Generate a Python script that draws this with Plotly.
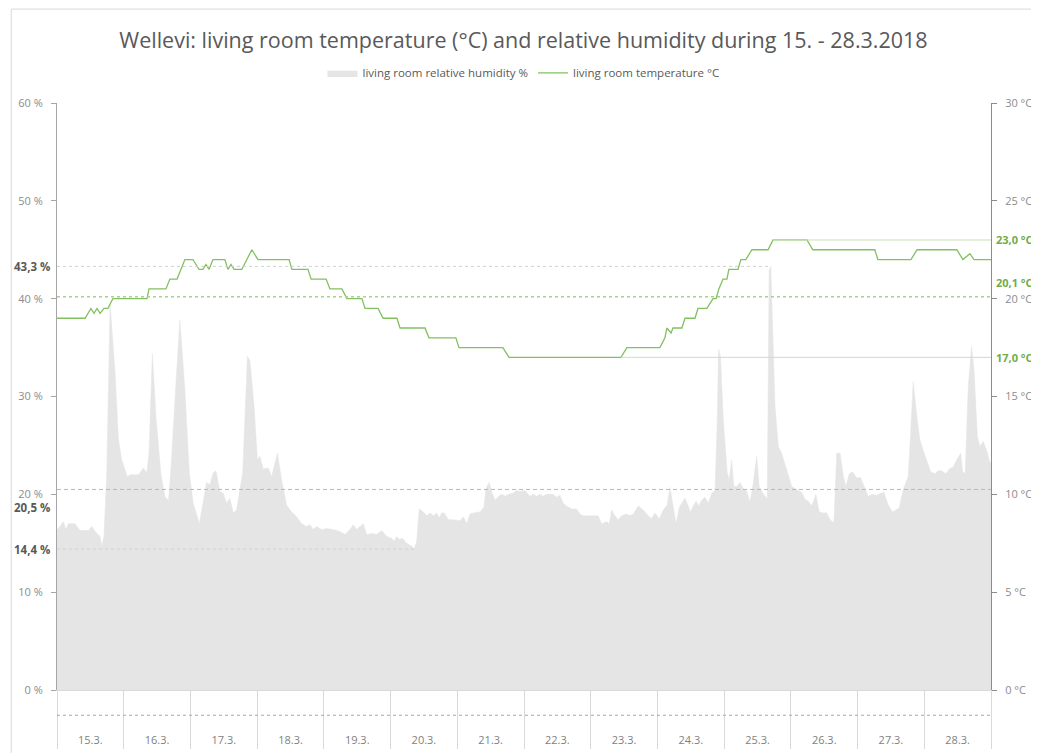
import plotly.graph_objects as go
import pandas as pd

# Wellevi living room, 15.-28.3.2018
start = pd.Timestamp("2018-03-15 00:00")
end = pd.Timestamp("2018-03-29 00:00")

# relative humidity %, hours since 15.3. 00:00
hum_hours = [0, 1.1, 2.3, 3.2, 4.1, 6.5, 8.3, 11.3, 12.5, 14.3, 15.5, 16.1, 16.9, 17.9, 19.1, 20.9, 22.1, 23.3,
             25.3, 26.3, 29.3, 31.1, 32.3, 33.1, 34.3, 35.6, 37.4, 38.9, 40.1, 40.9, 42.5, 44.2, 46.0, 47.6,
             49.0, 51.2, 52.4, 53.8, 55.0, 56.2, 57.2, 58.6, 59.8, 61.0, 62.2, 63.4, 64.6, 65.6, 66.8, 68.5, 69.4, 70.9,
             72.1, 73.0, 74.2, 76.0, 77.2, 79.3, 80.8, 82.6, 84.4, 86.2, 88.0, 89.8, 91.0, 92.2, 93.4, 95.2,
             97.0, 99.4, 101.8, 103.6, 105.4, 106.6, 107.8, 109.0, 110.2, 111.4, 113.2, 115.0, 116.8, 118.6, 120.4, 121.3, 122.2, 123.1,
             124.3, 125.8, 127.6, 128.5, 129.4, 130.3, 131.8, 133.0, 134.2, 135.4, 136.6, 137.5, 138.4, 139.3, 140.8, 142.6, 145.0, 146.2, 147.4, 148.6, 149.8, 152.2, 153.6,
             154.3, 155.5, 156.4, 157.6, 158.8, 160.0, 161.2, 162.3, 164.1, 165.3, 166.5, 168.3, 170.1, 171.3, 172.5, 173.7, 174.9, 176.1, 178.5, 179.7, 180.9,
             182.1, 183.3, 185.1, 186.9, 188.1, 189.3, 191.7, 194.7, 195.9, 197.7, 198.7, 199.5, 200.7, 201.9, 203.1, 204.9, 206.1, 207.3, 209.1, 210.9,
             212.7, 213.9, 215.1, 216.7, 218.1, 219.5, 220.5, 221.5, 222.7, 223.9, 225.3, 225.9, 227.1, 227.9, 228.9, 229.9, 230.8, 231.9, 233.1, 234.3, 235.5, 236.7, 237.5,
             238.0, 238.7, 239.7, 241.1, 241.8, 242.7, 243.5, 244.5, 245.7, 246.9, 248.1, 249.3, 250.5, 251.7, 252.6, 253.8, 254.7, 255.5, 256.2, 256.8, 258.3, 259.5, 260.7,
             262.5, 264.3, 266.1, 267.9, 269.1, 270.3, 271.5, 273.0, 274.2, 275.7, 276.9, 278.1, 279.5, 280.5, 281.7, 282.9, 283.8, 285.0, 286.2, 287.6, 289.1, 290.3,
             291.8, 293.4, 294.8, 296.3, 297.5, 299.0, 300.6, 301.8, 303.0, 304.4, 306.2, 307.1, 308.0, 309.2, 310.4, 311.6, 312.8, 314.3, 315.8, 317.0, 318.2, 319.8,
             321.0, 322.4, 323.6, 325.1, 325.8, 326.7, 327.8, 329.0, 329.9, 331.1, 332.0, 333.2, 334.4, 335.6, 336.0]
hum_values = [16.4, 16.7, 17.2, 16.4, 17.0, 17.0, 16.3, 16.3, 16.7, 16.0, 15.7, 14.7, 15.7, 22.2, 39.5, 32.4, 25.6, 23.5,
              21.8, 22.0, 22.0, 22.7, 22.2, 24.2, 34.4, 27.9, 22.0, 19.7, 19.4, 22.2, 30.0, 37.8, 30.7, 22.2,
              19.1, 17.0, 18.9, 21.2, 21.0, 22.2, 22.4, 20.3, 20.1, 19.1, 19.6, 18.1, 18.4, 20.1, 22.2, 34.1, 33.7, 29.0,
              23.5, 23.9, 22.6, 22.7, 21.8, 24.2, 21.5, 18.9, 18.2, 17.7, 17.0, 16.7, 16.9, 16.4, 16.7, 16.4,
              16.5, 16.4, 16.2, 15.9, 16.4, 16.9, 16.4, 16.7, 17.0, 15.9, 16.0, 15.9, 16.3, 15.7, 15.5, 15.2, 15.7, 15.4,
              15.5, 15.0, 14.7, 14.4, 15.2, 18.5, 18.2, 17.8, 18.1, 17.8, 18.1, 17.6, 18.1, 18.1, 17.4, 17.4, 17.3, 17.7, 17.0, 18.0, 18.1, 18.2, 18.7,
              20.6, 21.2, 20.2, 19.4, 19.8, 20.0, 19.8, 20.0, 20.1, 20.4, 20.3, 20.4, 19.8, 20.0, 19.8, 20.0, 19.8, 20.0, 20.0, 19.7, 19.9,
              19.1, 18.8, 18.5, 18.5, 18.0, 17.8, 17.8, 17.8, 17.0, 17.2, 17.0, 18.4, 17.8, 17.4, 17.8, 18.0, 17.8, 18.0, 18.8, 18.4,
              17.8, 17.5, 18.1, 17.5, 18.4, 18.9, 20.7, 19.1, 17.0, 18.7, 19.3, 19.6, 18.8, 18.2, 18.8, 19.3, 18.8, 19.4, 19.7, 19.1, 20.1, 20.4, 27.3,
              34.8, 34.1, 27.6, 22.2, 21.5, 23.5, 20.8, 20.8, 21.2, 20.6, 20.3, 19.2, 21.2, 23.9, 20.8, 20.2, 19.8, 19.5, 42.9, 43.3, 29.0, 24.9, 24.2,
              22.5, 20.8, 20.5, 20.2, 19.5, 19.3, 18.8, 20.0, 18.2, 18.1, 18.1, 17.4, 17.1, 24.2, 24.2, 21.8, 20.8, 22.1, 22.3, 21.7, 21.7, 20.8,
              19.8, 20.0, 19.9, 20.1, 20.2, 18.9, 18.2, 18.4, 18.6, 20.5, 21.8, 26.3, 31.5, 28.3, 25.6, 24.5, 23.5, 22.3, 22.1, 22.4, 22.4, 22.1,
              22.6, 22.8, 23.5, 24.2, 22.3, 22.1, 31.0, 35.1, 32.7, 25.9, 24.9, 25.4, 24.5, 23.3, 23.2]

# temperature °C
temp_hours = [0, 10.1, 12.2, 13.3, 14.4, 15.5, 16.9, 18.3, 20.1, 32.4, 33.1, 39.2, 40.6, 43.2, 46.0, 48.9,
              51.1, 52.5, 53.6, 54.7, 56.1, 60.4, 61.5, 62.6, 63.7, 66.5, 68.3, 70.1, 72.3, 83.5, 84.5, 90.3,
              91.4, 96.8, 98.2, 102.5, 104.3, 109.7, 110.8, 115.5, 117.3, 122.3, 123.4, 132.4, 133.8, 143.5,
              144.6, 160.4, 162.6, 202.9, 205.0, 216.9, 218.7, 219.4, 220.9, 221.6, 224.8, 225.9, 229.5, 230.6,
              233.8, 236.0, 237.1, 238.1, 239.6, 241.0, 241.7, 245.0, 246.0, 247.8, 250.0, 255.8, 257.6, 269.8,
              271.9, 294.2, 295.3, 307.2, 309.4, 323.7, 325.9, 328.4, 329.9, 336.0]
temp_values = [19.0, 19.0, 19.5, 19.25, 19.5, 19.25, 19.5, 19.5, 20.0, 20.0, 20.5, 20.5, 21.0, 21.0, 22.0, 22.0,
               21.5, 21.5, 21.75, 21.5, 22.0, 22.0, 21.5, 21.75, 21.5, 21.5, 22.0, 22.5, 22.0, 22.0, 21.5, 21.5,
               21.0, 21.0, 20.5, 20.5, 20.0, 20.0, 19.5, 19.5, 19.0, 19.0, 18.5, 18.5, 18.0, 18.0,
               17.5, 17.5, 17.0, 17.0, 17.5, 17.5, 18.0, 18.5, 18.25, 18.5, 18.5, 19.0, 19.0, 19.5,
               19.5, 20.0, 20.0, 20.5, 21.0, 21.0, 21.5, 21.5, 22.0, 22.0, 22.5, 22.5, 23.0, 23.0,
               22.5, 22.5, 22.0, 22.0, 22.5, 22.5, 22.0, 22.3, 22.0, 22.0]

# summary values shown on the chart
hum_max, hum_avg, hum_min = 43.3, 20.5, 14.4
temp_max, temp_avg, temp_min = 23.0, 20.1, 17.0
hum_max_hour, hum_min_hour = 256.8, 128.5
temp_max_hour, temp_min_hour = 257.6, 202.9

assert len(hum_hours) == len(hum_values)
assert len(temp_hours) == len(temp_values)

hum_x = start + pd.to_timedelta(hum_hours, unit="h")
temp_x = start + pd.to_timedelta(temp_hours, unit="h")
def at(h):
    return start + pd.Timedelta(hours=h)

FONT = "Open Sans, sans-serif"
GREEN = "#70AD47"

fig = go.Figure()
fig.add_trace(go.Scatter(x=hum_x, y=hum_values, name="living room relative humidity %",
                         mode="lines", fill="tozeroy", fillcolor="#e5e5e5",
                         line=dict(color="#e5e5e5", width=0.5), yaxis="y"))
fig.add_trace(go.Scatter(x=temp_x, y=temp_values, name="living room temperature °C",
                         mode="lines", line=dict(color="#82c060", width=1.3), yaxis="y2"))

def comma(v):
    return f"{v:.1f}".replace(".", ",")

shapes = [
    # humidity max / avg / min
    dict(type="line", xref="x", yref="y", x0=start, x1=at(hum_max_hour), y0=hum_max, y1=hum_max,
         line=dict(color="#d0d0d0", width=1, dash="dot"), layer="above"),
    dict(type="line", xref="x", yref="y", x0=start, x1=end, y0=hum_avg, y1=hum_avg,
         line=dict(color="#b8b8b8", width=1, dash="4px,3px"), layer="above"),
    dict(type="line", xref="x", yref="y", x0=start, x1=at(hum_min_hour), y0=hum_min, y1=hum_min,
         line=dict(color="#d0d0d0", width=1, dash="dot"), layer="above"),
    # temperature max / avg / min
    dict(type="line", xref="x", yref="y2", x0=at(temp_max_hour), x1=end, y0=temp_max, y1=temp_max,
         line=dict(color="#c9e2b8", width=1), layer="above"),
    dict(type="line", xref="x", yref="y2", x0=start, x1=end, y0=temp_avg, y1=temp_avg,
         line=dict(color="#a9d18e", width=1.5, dash="3px,3px"), layer="above"),
    dict(type="line", xref="x", yref="y2", x0=at(temp_min_hour), x1=end, y0=temp_min, y1=temp_min,
         line=dict(color="#c9e2b8", width=1), layer="above"),
    # dotted line in the date band
    dict(type="line", xref="paper", yref="paper", x0=0, x1=1, y0=-0.043, y1=-0.043,
         line=dict(color="#a6a6a6", width=1, dash="dot")),
    # outer chart frame
    dict(type="rect", xref="paper", yref="paper", x0=-0.049, x1=1.06, y0=-0.13, y1=1.16,
         line=dict(color="#d9d9d9", width=1)),
]

annotations = []
for v, shift in [(hum_max, 0), (hum_avg, -18), (hum_min, 0)]:
    annotations.append(dict(xref="paper", yref="y", x=0, y=v, xanchor="right", yanchor="middle",
                            xshift=-5, yshift=shift, showarrow=False, text=f"<b>{comma(v)} %</b>",
                            font=dict(family=FONT, size=11.5, color="#595959")))
for v, shift in [(temp_max, 0), (temp_avg, 14), (temp_min, 0)]:
    annotations.append(dict(xref="paper", yref="y2", x=1, y=v, xanchor="left", yanchor="middle",
                            xshift=3, yshift=shift, showarrow=False, text=f"<b>{comma(v)} °C</b>",
                            font=dict(family=FONT, size=11, color=GREEN)))

# the page body adds an 8px offset, so the figure is made 8px smaller
fig.update_layout(
    width=1031, height=745,
    margin=dict(l=49, r=48, t=95, b=63),
    paper_bgcolor="white", plot_bgcolor="white",
    font=dict(family=FONT, color="#7f7f7f", size=11),
    title=dict(text="Wellevi: living room temperature (°C) and relative humidity during 15. - 28.3.2018",
               x=0.5, xanchor="center", y=0.957, yanchor="middle",
               font=dict(family=FONT, size=21.5, color="#595959")),
    legend=dict(orientation="h", x=0.5, xanchor="center", xref="container",
                y=0.9128, yanchor="middle", yref="container",
                font=dict(family=FONT, size=11.5, color="#595959"), itemwidth=30),
    xaxis=dict(type="date", range=[start, end], tick0=start, dtick=86400000,
               tickformat="%-d.%-m.", ticklabelmode="period", automargin=False,
               ticks="outside", ticklen=58, tickcolor="#d9d9d9", tickwidth=1,
               ticklabelstandoff=-18,
               showline=True, linecolor="#d9d9d9", showgrid=False, zeroline=False,
               tickfont=dict(size=11, color="#7f7f7f")),
    yaxis=dict(range=[0, 60], dtick=10, ticksuffix=" %", showline=True, linecolor="#a6a6a6",
               ticks="outside", ticklen=5, tickcolor="#a6a6a6", showgrid=False, zeroline=False,
               automargin=False, ticklabelstandoff=6, tickfont=dict(size=11, color="#8c8c8c")),
    yaxis2=dict(range=[0, 30], dtick=5, ticksuffix=" °C", overlaying="y", side="right",
                showline=True, linecolor="#8c8c8c", ticks="outside", ticklen=5, tickcolor="#8c8c8c",
                showgrid=False, zeroline=False, automargin=False, ticklabelstandoff=6,
                tickfont=dict(size=11, color="#8c8c8c")),
    shapes=shapes,
    annotations=annotations,
)

fig.write_html("out.html")
